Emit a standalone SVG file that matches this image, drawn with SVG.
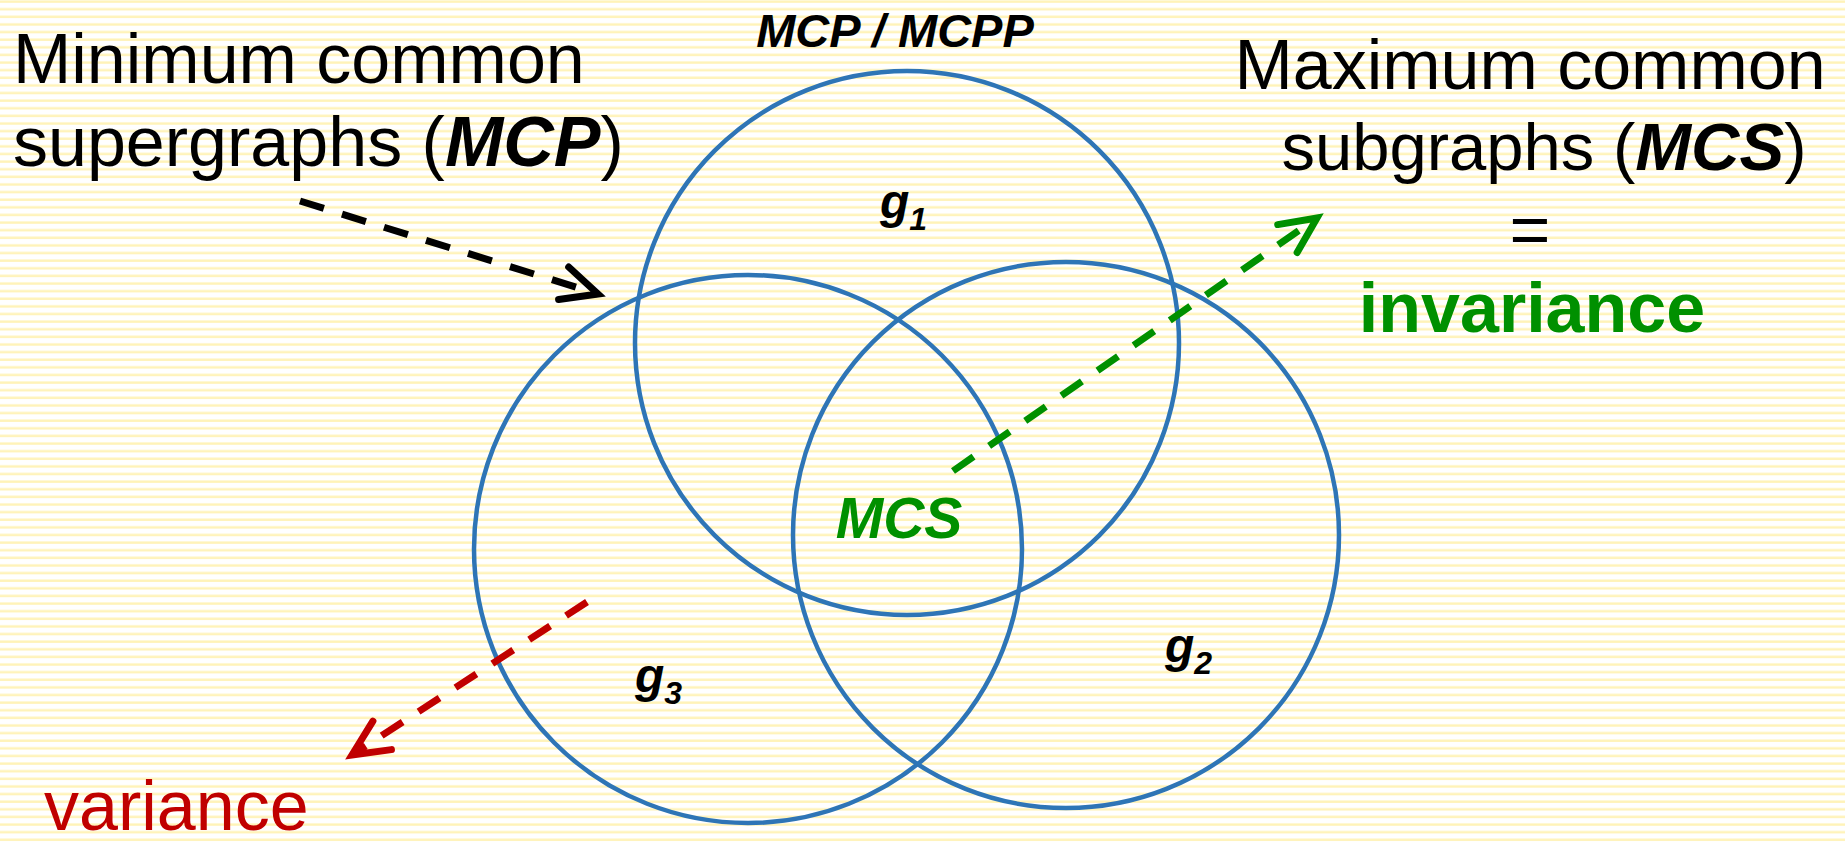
<svg xmlns="http://www.w3.org/2000/svg" width="1845" height="842" viewBox="0 0 1845 842">
  <defs>
    <pattern id="stripes" x="0" y="0" width="20" height="7.62" patternUnits="userSpaceOnUse">
      <rect x="0" y="0" width="20" height="7.62" fill="#ffffff"/>
      <rect x="0" y="0.4" width="20" height="2.4" fill="#fff3b8"/>
    </pattern>
    <marker id="headBlack" markerUnits="userSpaceOnUse" markerWidth="80" markerHeight="80" refX="0" refY="0" orient="auto" overflow="visible">
      <path d="M -36 -17 L 0 0 L -36 17" fill="none" stroke="#000000" stroke-width="7" stroke-linecap="round" stroke-linejoin="miter"/>
    </marker>
    <marker id="headGreen" markerUnits="userSpaceOnUse" markerWidth="80" markerHeight="80" refX="0" refY="0" orient="auto" overflow="visible">
      <path d="M -36 -17 L 0 0 L -36 17" fill="none" stroke="#009000" stroke-width="7" stroke-linecap="round" stroke-linejoin="miter"/>
    </marker>
    <marker id="headRed" markerUnits="userSpaceOnUse" markerWidth="80" markerHeight="80" refX="0" refY="0" orient="auto" overflow="visible">
      <path d="M -36 -17 L 0 0 L -36 17" fill="none" stroke="#c00000" stroke-width="7" stroke-linecap="round" stroke-linejoin="miter"/>
    </marker>
  </defs>
  <style>
    .set { fill: none; stroke: #2e75b6; stroke-width: 4.5; }
    .big { font-family: "Liberation Sans", Arial, sans-serif; font-size: 70px; fill: #000000; }
    .bi { font-weight: bold; font-style: italic; }
    .green { fill: #009000; }
    .red { fill: #c00000; }
    .glab { font-family: "Liberation Sans", Arial, sans-serif; font-size: 48px; font-weight: bold; font-style: italic; fill: #000000; }
    .conn { fill: none; stroke-width: 7; stroke-dasharray: 25 19; }
  </style>
  <rect x="0" y="0" width="1845" height="842" fill="url(#stripes)"/>

  <g id="node-g1">
    <circle class="set" cx="907" cy="343" r="272"/>
    <text class="glab" x="880" y="218">g<tspan font-size="32" dy="12">1</tspan></text>
  </g>
  <g id="node-g3">
    <circle class="set" cx="748" cy="549" r="274"/>
    <text class="glab" x="635" y="692">g<tspan font-size="32" dy="12">3</tspan></text>
  </g>
  <g id="node-g2">
    <circle class="set" cx="1066" cy="535" r="273"/>
    <text class="glab" x="1165" y="662">g<tspan font-size="32" dy="12">2</tspan></text>
  </g>

  <g id="node-mcpp-title">
    <text x="895" y="47" text-anchor="middle" font-family="Liberation Sans, Arial, sans-serif" font-size="47" font-weight="bold" font-style="italic" fill="#000000">MCP / MCPP</text>
  </g>
  <g id="node-mcs-center">
    <text x="899" y="538" text-anchor="middle" font-family="Liberation Sans, Arial, sans-serif" font-size="57" font-weight="bold" font-style="italic" fill="#009000">MCS</text>
  </g>

  <g id="node-mcp-label">
    <text class="big" x="13" y="83" font-size="69">Minimum common</text>
    <text class="big" x="13" y="166">supergraphs (<tspan class="bi">MCP</tspan>)</text>
  </g>
  <g id="node-mcs-label">
    <text class="big" x="1530" y="89" text-anchor="middle">Maximum common</text>
    <text class="big" x="1544" y="170" text-anchor="middle" style="font-size:67px">subgraphs (<tspan class="bi">MCS</tspan>)</text>
    <text class="big" x="1530" y="254" text-anchor="middle">=</text>
    <text class="big green" x="1532" y="332" text-anchor="middle" font-weight="bold">invariance</text>
  </g>
  <g id="node-variance">
    <text class="big red" x="44" y="830">variance</text>
  </g>

  <g id="connectors">
    <path class="conn" d="M 300 201 L 598 294" stroke="#000000" marker-end="url(#headBlack)"/>
    <path class="conn" d="M 953 471 L 1317 218" stroke="#009000" marker-end="url(#headGreen)"/>
    <path class="conn" d="M 587 602 L 352 755" stroke="#c00000" marker-end="url(#headRed)"/>
  </g>
</svg>
